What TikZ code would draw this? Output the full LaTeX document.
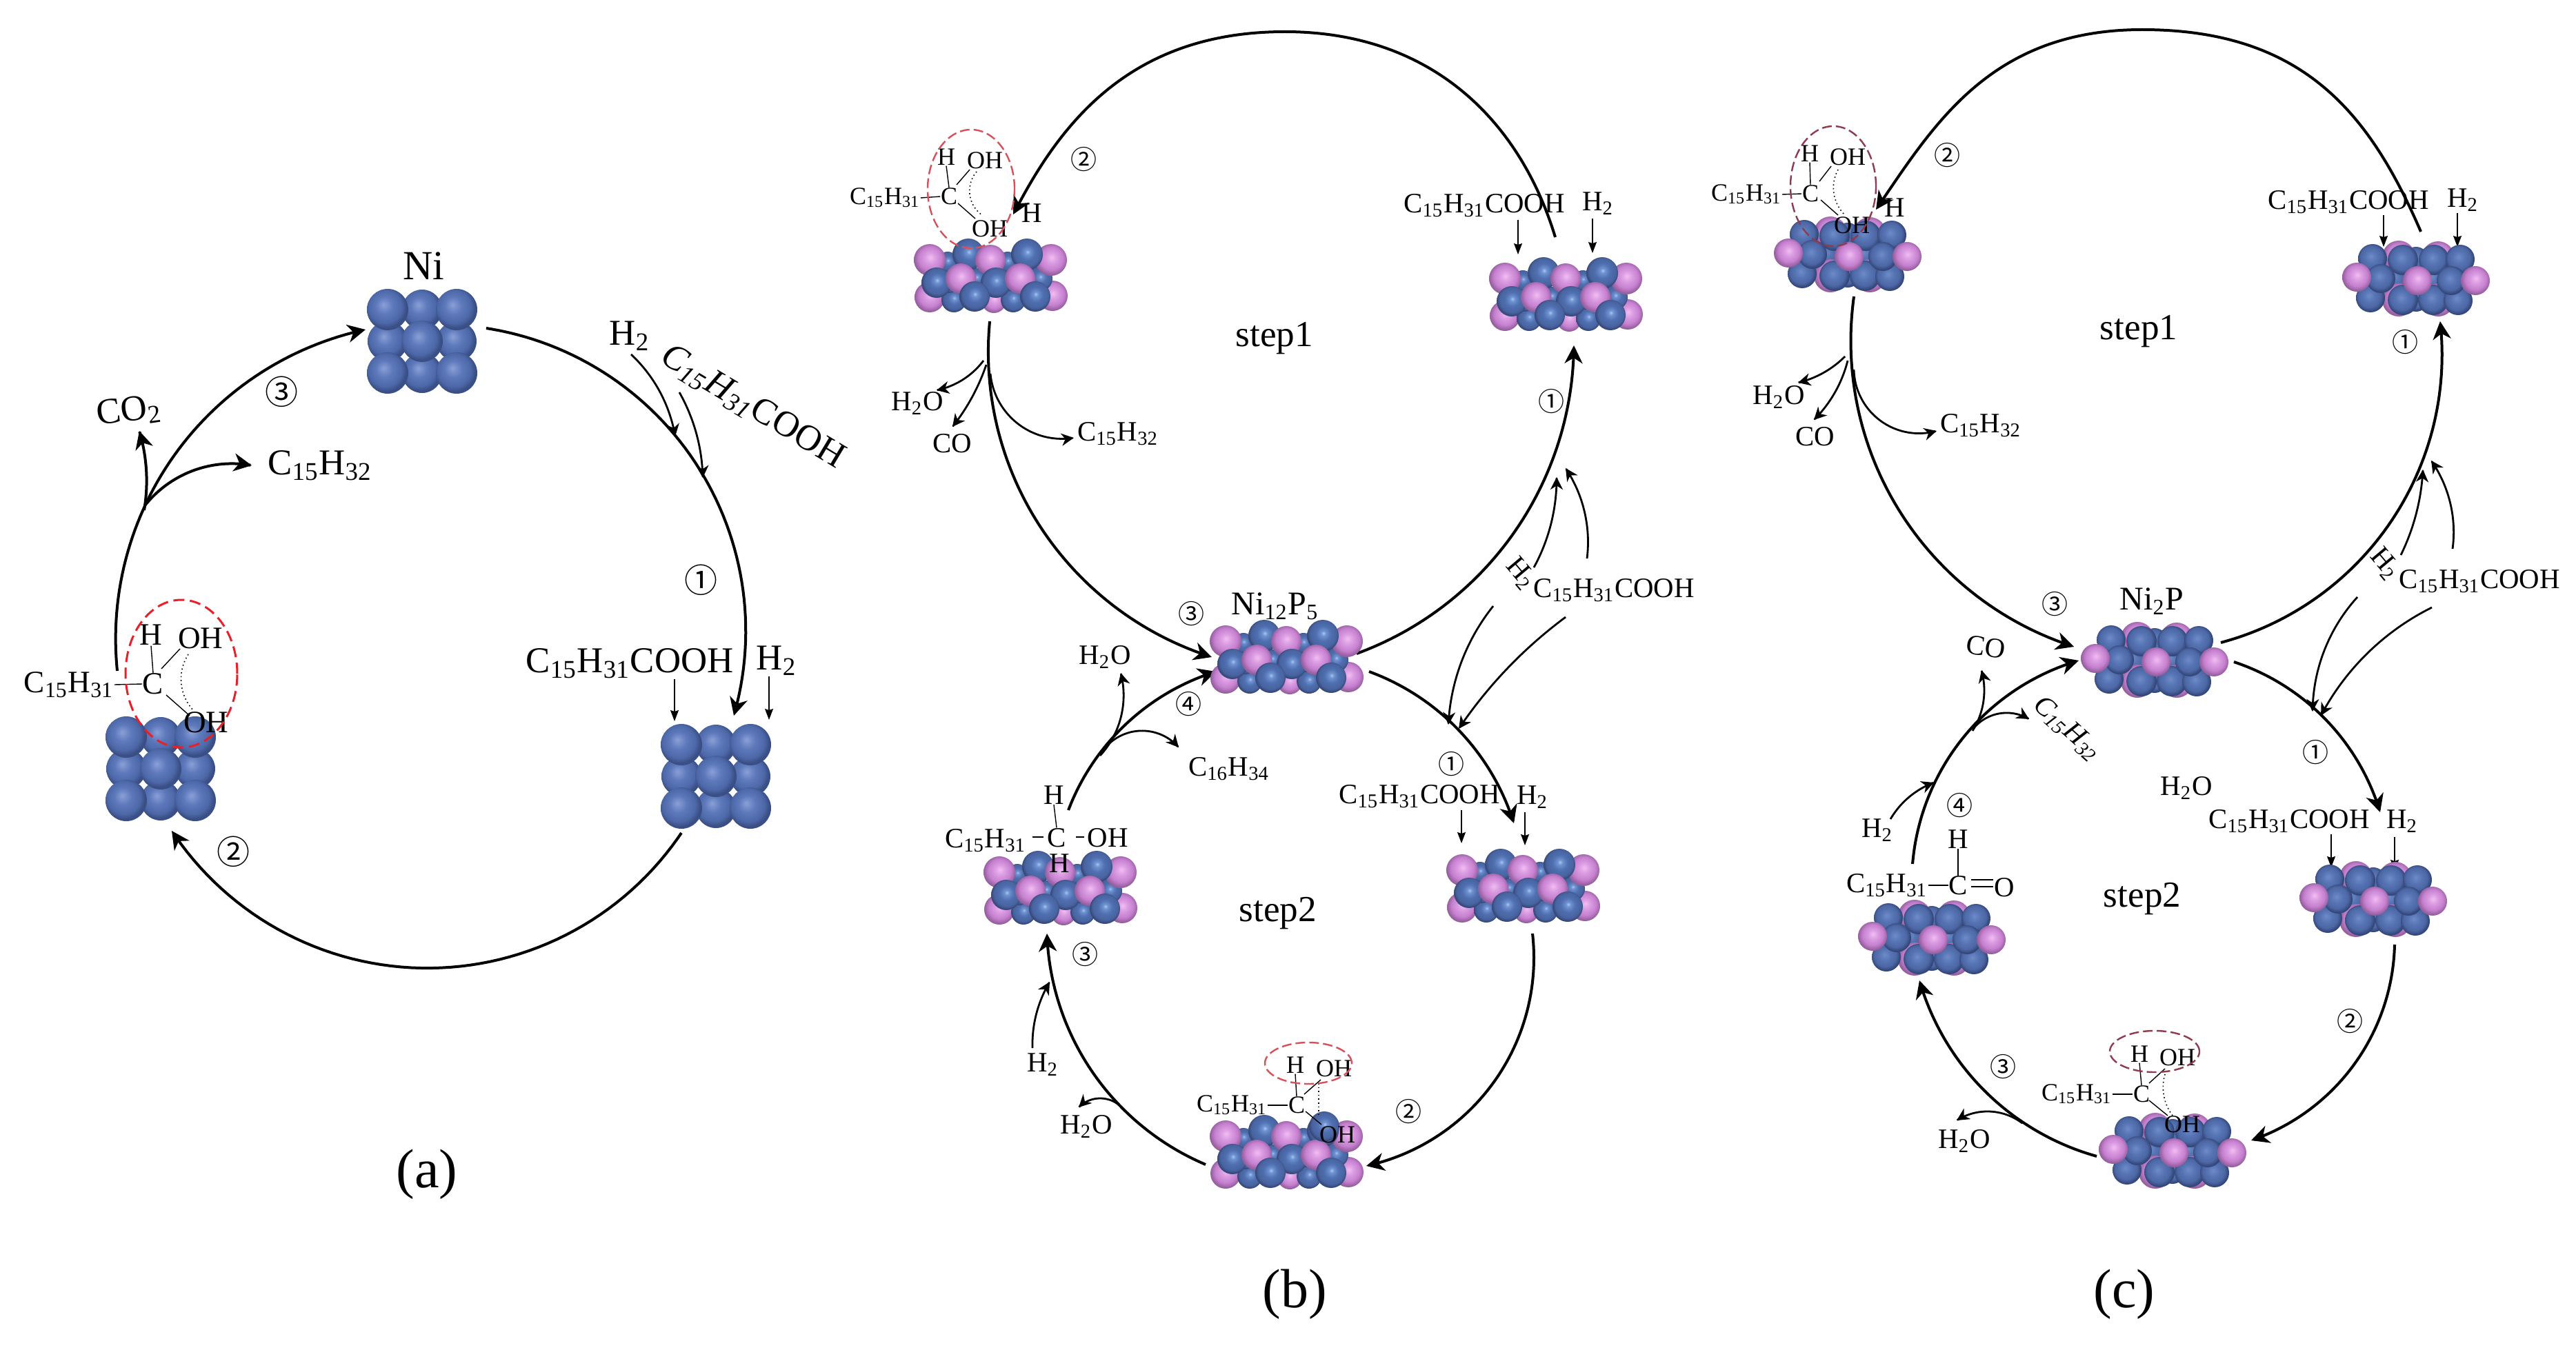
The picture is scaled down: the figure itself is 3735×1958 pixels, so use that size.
\documentclass[tikz,border=0pt]{standalone}
\usepackage{tikz}
\usepackage{fontspec}
\setmainfont{Liberation Serif}
\newfontfamily\cnum{Noto Sans CJK SC}
\usetikzlibrary{arrows.meta}
\definecolor{aA}{HTML}{8AA0D6}\definecolor{aB}{HTML}{5F7ABC}\definecolor{aC}{HTML}{4D68A8}\definecolor{aD}{HTML}{3A4F85}
\definecolor{bA}{HTML}{A6C6F2}\definecolor{bB}{HTML}{6F92D0}\definecolor{bC}{HTML}{4F6FB0}\definecolor{bD}{HTML}{48639F}\definecolor{bE}{HTML}{374A7C}
\definecolor{cA}{HTML}{6F8CC8}\definecolor{cB}{HTML}{5774B4}\definecolor{cC}{HTML}{4C67A4}\definecolor{cD}{HTML}{33477A}
\definecolor{pA}{HTML}{F2BEF2}\definecolor{pB}{HTML}{DB9DE2}\definecolor{pC}{HTML}{C680CF}\definecolor{pD}{HTML}{96609F}
\definecolor{redA}{HTML}{E8202A}\definecolor{redB}{HTML}{D9505A}\definecolor{redC}{HTML}{8F3A4F}
\pgfdeclareradialshading{ballA}{\pgfpoint{-5bp}{6bp}}{color(0bp)=(aA); color(10bp)=(aB); color(20bp)=(aC); color(25bp)=(aD); color(50bp)=(aD)}
\pgfdeclareradialshading{ballB}{\pgfpoint{1bp}{4bp}}{color(0bp)=(bA); color(4bp)=(bB); color(12bp)=(bC); color(21bp)=(bD); color(25bp)=(bE); color(50bp)=(bE)}
\pgfdeclareradialshading{ballC}{\pgfpoint{-3bp}{4bp}}{color(0bp)=(cA); color(10bp)=(cB); color(19bp)=(cC); color(25bp)=(cD); color(50bp)=(cD)}
\pgfdeclareradialshading{ballP}{\pgfpoint{1bp}{4bp}}{color(0bp)=(pA); color(8bp)=(pB); color(18bp)=(pC); color(25bp)=(pD); color(50bp)=(pD)}
\newcommand\sph[4]{\shade[shading=#1] (#2,#3) circle[radius=#4*0.25pt];}
\newcommand\NiCube[2]{\begin{scope}[shift={(#1,#2)}]
 \sph{ballA}{0}{-46}{29}\sph{ballA}{-50}{0}{29}\sph{ballA}{50}{0}{29}\sph{ballA}{0}{46}{29}
 \sph{ballA}{-50}{-46}{30}\sph{ballA}{50}{-46}{30}\sph{ballA}{-50}{46}{30}\sph{ballA}{50}{46}{30}\sph{ballA}{0}{0}{30}
\end{scope}}
\newcommand\SlabB[2]{\begin{scope}[shift={(#1,#2)}]
 \sph{ballP}{-88}{29}{22}\sph{ballP}{5}{34}{18}\sph{ballP}{90}{27}{22}
 \sph{ballB}{-62}{-22}{15}\sph{ballB}{25}{-22}{15}\sph{ballB}{-20}{2}{15}\sph{ballB}{72}{2}{18}
 \sph{ballB}{-53}{33}{18}\sph{ballB}{33}{33}{18}\sph{ballB}{-60}{8}{15}\sph{ballB}{30}{5}{15}
 \sph{ballP}{88}{-25}{23}\sph{ballB}{53}{-33}{23}\sph{ballB}{-32}{-33}{23}\sph{ballP}{0}{-25}{22}\sph{ballP}{-88}{-25}{23}
 \sph{ballB}{-78}{8}{22}\sph{ballB}{8}{8}{22}\sph{ballP}{-43}{2}{22}\sph{ballP}{43}{2}{22}
 \sph{ballB}{-23}{28}{22}\sph{ballB}{65}{28}{22}
\end{scope}}
\newcommand\SlabC[2]{\begin{scope}[shift={(#1,#2)}]
 \sph{ballC}{0}{-28}{18}\sph{ballC}{0}{30}{18}\sph{ballC}{-30}{0}{18}\sph{ballC}{25}{0}{18}
 \sph{ballP}{-25}{-31}{24}\sph{ballP}{32}{-30}{24}\sph{ballP}{-25}{31}{24}\sph{ballP}{32}{31}{24}
 \sph{ballC}{-63}{-29}{21}\sph{ballC}{-19}{-27}{22}\sph{ballC}{26}{-27}{22}\sph{ballC}{64}{-28}{21}
 \sph{ballC}{-66}{28}{21}\sph{ballC}{-19}{31}{22}\sph{ballC}{25}{31}{22}\sph{ballC}{61}{32}{21}
 \sph{ballC}{-51}{0}{21}\sph{ballC}{51}{3}{21}
 \sph{ballP}{-86}{-2}{21}\sph{ballP}{2}{3}{21}\sph{ballP}{86}{3}{21}
\end{scope}}
\newcounter{cn}
% circular arc connector through three points: style, start, point on the arc, end
\newcommand\arcc[7]{\stepcounter{cn}\coordinate (c\thecn s) at (#2,#3);\coordinate (c\thecn e) at (#6,#7);%
 \pgfmathsetmacro\qbx{(#4-#2)/100}\pgfmathsetmacro\qby{(#5-#3)/100}%
 \pgfmathsetmacro\qcx{(#6-#2)/100}\pgfmathsetmacro\qcy{(#7-#3)/100}%
 \pgfmathsetmacro\qD{2*(\qbx*\qcy-\qby*\qcx)}%
 \pgfmathsetmacro\qbb{\qbx*\qbx+\qby*\qby}\pgfmathsetmacro\qcc{\qcx*\qcx+\qcy*\qcy}%
 \pgfmathsetmacro\qux{(\qcy*\qbb-\qby*\qcc)/\qD}\pgfmathsetmacro\quy{(\qbx*\qcc-\qcx*\qbb)/\qD}%
 \pgfmathsetmacro\qR{sqrt(\qux*\qux+\quy*\quy)}%
 \pgfmathsetmacro\qaS{atan2(-\quy,-\qux)}\pgfmathsetmacro\qaE{atan2(\qcy-\quy,\qcx-\qux)}%
 \pgfmathsetmacro\qdA{\qaE-\qaS}%
 \pgfmathsetmacro\qdA{ifthenelse(\qD>0,ifthenelse(\qdA<0,\qdA+360,\qdA),ifthenelse(\qdA>0,\qdA-360,\qdA))}%
 \draw[#1] (c\thecn s) -- plot[domain=0.01:0.99,samples=60] ({#2+100*(\qux+\qR*cos(\qaS+\x*\qdA))},{#3+100*(\quy+\qR*sin(\qaS+\x*\qdA))}) -- (c\thecn e);}
\newcommand\sconn[3]{\stepcounter{cn}\coordinate (c\thecn s) at #2;\coordinate (c\thecn e) at #3;%
 \draw[#1] (c\thecn s) -- (c\thecn e);}
\newcommand\ssb[1]{\textsubscript{#1}}
\newcommand\Chain{C\ssb{15}H\ssb{31}}
\newcommand\Acid{\Chain COOH}
\tikzset{
 lb/.style={inner sep=0pt,font=\fontsize{#1}{#1}\selectfont},
 la/.style={lb=13.2},
 lm/.style={lb=11.3},
 lc/.style={lb=10.2},
 ls/.style={lb=9},
 stp/.style={lb=13.3},
 capt/.style={lb=20},
 numa/.style={inner sep=0pt,font=\cnum\fontsize{12}{12}\selectfont},
 numb/.style={inner sep=0pt,font=\cnum\fontsize{9.5}{9.5}\selectfont},
 big/.style={line width=1pt,-{Stealth[length=6.5pt,width=6.5pt,inset=2pt]}},
 midarr/.style={line width=.7pt,-{Stealth[length=4.5pt,width=4.5pt,inset=1.4pt]}},
 dn/.style={line width=.3pt,-{Stealth[length=4pt,width=3pt,inset=.5pt]}},
 bnd/.style={line width=.35pt},
 dotl/.style={line width=.4pt,densely dotted},
 ringA/.style={draw=redA,line width=.75pt,dash pattern=on 4pt off 2pt},
 ringB/.style={draw=redB,line width=.6pt,dash pattern=on 3.5pt off 1.5pt},
 ringC/.style={draw=redC,line width=.6pt,dash pattern=on 3.5pt off 1.5pt},
}
\begin{document}
\begin{tikzpicture}[x=0.25pt,y=-0.25pt]
\useasboundingbox (0,0) rectangle (3735,1958);
\fill[white] (0,0) rectangle (3735,1958);
%% ---------- panel (a)
\arcc{big}{705}{476}{1020}{690}{1064}{1038}
\arcc{big}{988}{1208}{630}{1404}{249}{1205}
\arcc{big}{170}{973}{209}{736}{530}{478}
\arcc{big}{209}{740}{212}{680}{202}{625}
\arcc{big}{211}{732}{263}{690}{365}{675}
\arcc{midarr}{915}{514}{955}{565}{979}{633}
\arcc{midarr}{985}{569}{1010}{630}{1019}{693}
\sconn{dn}{(978,985)}{(978,1046)}
\sconn{dn}{(1115,981)}{(1115,1044)}
\NiCube{612}{495}
\NiCube{1038}{1126}
\NiCube{233}{1115}
\node[lb=15] (niA) at (614,386) {Ni};
\node[la,rotate=8] (co2A) at (187,597) {CO\ssb{2}};
\node[la] (alkA) at (464,675) {C\ssb{15}H\ssb{32}};
\node[numa] (n3A) at (408,568) {③};
\node[numa] (n1A) at (1016,841) {①};
\node[numa] (n2A) at (338,1235) {②};
\node[la] (acidA) at (913,962) {\Acid};
\node[la] (h2A) at (1126,958) {H\ssb{2}};
\node[la] (h2At) at (913,487) {H\ssb{2}};
\node[la,rotate=-31] (acidAt) at (1091,591) {\textit{C\ssb{15}H\ssb{31}}COOH};
\node[lm] (chA) at (100,993) {\Chain};
\node[lm] (cA) at (222,992) {C};
\node[lm] (hA) at (219,921) {H};
\node[lm] (oh1A) at (291,926) {OH};
\node[lm] (oh2A) at (299,1048) {OH};
\draw[bnd] (chA.east) -- (cA.west);
\draw[bnd] (hA.south) -- (cA.north);
\sconn{bnd}{(234,970)}{(261,941)}
\sconn{bnd}{(241,1008)}{(275,1038)}
\arcc{dotl}{273}{949}{263}{993}{281}{1031}
\draw[ringA] (263,977) ellipse [x radius=81*0.25pt,y radius=107*0.25pt];
\node[capt] (capA) at (619,1703) {(a)};
%% ---------- panel (b)
\coordinate (bTs) at (2255,344);\coordinate (bTm) at (1863,46);\coordinate (bTe) at (1469,311);
\draw[big] (bTs) .. controls (2205,179) and (2079,46) .. (bTm) .. controls (1646,46) and (1544,170) .. (bTe);
\arcc{big}{1967}{948}{2245}{682}{2282}{501}
\arcc{big}{1435}{466}{1532}{797}{1757}{953}
\arcc{big}{1985}{974}{2104}{1048}{2195}{1194}
\arcc{big}{2222}{1354}{2111}{1628}{1981}{1691}
\arcc{big}{1748}{1689}{1629}{1609}{1518}{1354}
\arcc{big}{1549}{1175}{1595}{1092}{1763}{974}
\arcc{midarr}{1426}{523}{1400}{548}{1358}{566}
\arcc{midarr}{1430}{529}{1410}{575}{1381}{619}
\arcc{midarr}{1436}{542}{1482}{619}{1557}{635}
\arcc{midarr}{2224}{823}{2249}{759}{2257}{692}
\arcc{midarr}{2301}{810}{2295}{733}{2270}{679}
\arcc{midarr}{2165}{879}{2115}{971}{2100}{1051}
\arcc{midarr}{2270}{895}{2172}{984}{2115}{1057}
\arcc{midarr}{1497}{1520}{1505}{1462}{1522}{1424}
\arcc{midarr}{1629}{1609}{1595}{1593}{1564}{1606}
\arcc{midarr}{1595}{1096}{1625}{1041}{1625}{976}
\arcc{midarr}{1602}{1085}{1660}{1060}{1709}{1084}
\sconn{dn}{(2201,319)}{(2201,369)}
\sconn{dn}{(2309,317)}{(2309,367)}
\sconn{dn}{(2119,1175)}{(2119,1223)}
\sconn{dn}{(2211,1178)}{(2211,1226)}
\SlabB{1436}{402}
\SlabB{2270}{429}
\SlabB{1865}{955}
\SlabB{2208}{1287}
\SlabB{1537}{1290}
\SlabB{1865}{1673}
\sph{ballB}{1920}{1634}{22}
\node[ls] (ch1) at (1283,287) {\Chain};
\node[ls] (c1) at (1376,285) {C};
\node[ls] (h1) at (1372,228) {H};
\node[ls] (oh1) at (1428,233) {OH};
\node[ls] (oh2) at (1435,332) {OH};
\node[lc] (h3) at (1496,309) {H};
\draw[bnd] (ch1.east) -- (c1.west);
\draw[bnd] (h1.south) -- (c1.north);
\sconn{bnd}{(1387,268)}{(1406,246)}
\sconn{bnd}{(1389,295)}{(1414,317)}
\arcc{dotl}{1416}{249}{1407}{287}{1424}{312}
\draw[ringB] (1408,274) ellipse [x radius=63*0.25pt,y radius=86*0.25pt];
\node[lc] (acidB1) at (2152,298) {\Acid};
\node[lc] (h2B1) at (2317,295) {H\ssb{2}};
\node[stp] (stepB1) at (1848,491) {step1};
\node[numb] (nb1) at (2249,582) {①};
\node[numb] (nb2) at (1571,231) {②};
\node[lc] (h2oB) at (1330,585) {H\ssb{2}O};
\node[lc] (coB) at (1381,643) {CO};
\node[lc] (alkB) at (1621,629) {C\ssb{15}H\ssb{32}};
\node[lb=12] (nip) at (1849,879) {Ni\ssb{12}P\ssb{5}};
\node[numb] (nb3) at (1727,890) {③};
\node[lc,rotate=-50] (h2B2) at (2205,832) {H\ssb{2}};
\node[lc] (acidB2) at (2340,856) {\Acid};
\node[numb] (nb1l) at (2104,1108) {①};
\node[lc] (acidB3) at (2058,1155) {\Acid};
\node[lc] (h2B3) at (2222,1156) {H\ssb{2}};
\node[stp] (stepB2) at (1853,1325) {step2};
\node[numb] (nb2l) at (2042,1612) {②};
\node[numb] (nb3l) at (1573,1384) {③};
\node[numb] (nb4) at (1723,1021) {④};
\node[lc] (h2B4) at (1512,1544) {H\ssb{2}};
\node[lc] (h2oB2) at (1575,1634) {H\ssb{2}O};
\node[lc] (h2oB3) at (1602,953) {H\ssb{2}O};
\node[lc] (c16) at (1782,1115) {C\ssb{16}H\ssb{34}};
\node[lc] (hl1) at (1528,1153) {H};
\node[lc] (chl) at (1429,1219) {\Chain};
\node[lc] (cl) at (1532,1215) {C};
\node[lc] (ohl) at (1606,1215) {OH};
\node[lc] (hl2) at (1536,1252) {H};
\draw[bnd] (cl.north) -- (hl1.south);
\sconn{bnd}{(1497,1214)}{(1513,1214)}
\sconn{bnd}{(1560,1214)}{(1572,1214)}
\node[ls] (hb) at (1878,1545) {H};
\node[ls] (ohb) at (1934,1550) {OH};
\node[ls] (chb) at (1786,1603) {\Chain};
\node[ls] (cb) at (1880,1603) {C};
\node[ls] (ohb2) at (1939,1646) {OH};
\draw[bnd] (chb.east) -- (cb.west);
\draw[bnd] (hb.south) -- (cb.north);
\sconn{bnd}{(1891,1587)}{(1915,1566)}
\sconn{bnd}{(1893,1612)}{(1916,1631)}
\sconn{dotl}{(1912,1571)}{(1912,1618)}
\draw[ringB] (1897,1542) ellipse [x radius=63*0.25pt,y radius=30*0.25pt];
\node[capt] (capB) at (1877,1877) {(b)};
%% ---------- panel (c)
\coordinate (cTs) at (3510,336);\coordinate (cTm) at (3106,43);\coordinate (cTe) at (2720,304);
\draw[big] (cTs) .. controls (3436,165) and (3340,43) .. (cTm) .. controls (2894,43) and (2810,171) .. (cTe);
\arcc{big}{3220}{932}{3507}{682}{3538}{466}
\arcc{big}{2688}{430}{2770}{765}{3007}{938}
\arcc{big}{3239}{960}{3357}{1029}{3451}{1178}
\arcc{big}{3472}{1370}{3372}{1590}{3264}{1654}
\arcc{big}{3040}{1677}{2929}{1625}{2783}{1422}
\arcc{big}{2773}{1253}{2860}{1054}{3014}{958}
\arcc{midarr}{2675}{517}{2645}{540}{2607}{555}
\arcc{midarr}{2679}{523}{2660}{570}{2630}{609}
\arcc{midarr}{2688}{536}{2729}{612}{2808}{625}
\arcc{midarr}{3481}{805}{3503}{746}{3513}{681}
\arcc{midarr}{3556}{796}{3552}{727}{3525}{668}
\arcc{midarr}{3418}{866}{3369}{946}{3353}{1032}
\arcc{midarr}{3526}{881}{3434}{946}{3365}{1038}
\arcc{midarr}{2932}{1629}{2883}{1612}{2837}{1625}
\arcc{midarr}{2741}{1188}{2768}{1156}{2804}{1135}
\arcc{midarr}{2860}{1060}{2875}{1022}{2873}{972}
\arcc{midarr}{2861}{1057}{2898}{1035}{2942}{1043}
\sconn{dn}{(3456,312)}{(3456,358)}
\sconn{dn}{(3563,309)}{(3563,358)}
\sconn{dn}{(3380,1210)}{(3380,1258)}
\sconn{dn}{(3472,1214)}{(3472,1263)}
\SlabC{2679}{369}
\SlabC{3503}{404}
\SlabC{3124}{957}
\SlabC{3441}{1304}
\SlabC{2801}{1360}
\SlabC{3150}{1669}
\node[ls] (ch2) at (2532,282) {\Chain};
\node[ls] (c2) at (2625,281) {C};
\node[ls] (h5) at (2624,223) {H};
\node[ls] (oh5) at (2679,228) {OH};
\node[ls] (oh6) at (2685,327) {OH};
\node[lc] (h6) at (2747,301) {H};
\draw[bnd] (ch2.east) -- (c2.west);
\draw[bnd] (h5.south) -- (c2.north);
\sconn{bnd}{(2638,263)}{(2655,241)}
\sconn{bnd}{(2640,290)}{(2665,312)}
\arcc{dotl}{2665}{246}{2659}{281}{2675}{312}
\draw[ringC] (2658,270) ellipse [x radius=62*0.25pt,y radius=87*0.25pt];
\node[lc] (acidC1) at (3405,293) {\Acid};
\node[lc] (h2C1) at (3571,290) {H\ssb{2}};
\node[stp] (stepC1) at (3101,481) {step1};
\node[numb] (nc1) at (3487,496) {①};
\node[numb] (nc2) at (2823,225) {②};
\node[lc] (h2oC) at (2579,576) {H\ssb{2}O};
\node[lc] (coC) at (2632,633) {CO};
\node[lc] (alkC) at (2872,617) {C\ssb{15}H\ssb{32}};
\node[lb=12] (nipC) at (3120,872) {Ni\ssb{2}P};
\node[numb] (nc3) at (2979,876) {③};
\node[lc,rotate=-50] (h2C2) at (3458,818) {H\ssb{2}};
\node[lc] (acidC2) at (3595,843) {\Acid};
\node[numb] (nc1l) at (3357,1091) {①};
\node[lc] (h2oC2) at (3170,1143) {H\ssb{2}O};
\node[lc] (acidC3) at (3319,1191) {\Acid};
\node[lc] (h2C3) at (3483,1191) {H\ssb{2}};
\node[stp] (stepC2) at (3106,1304) {step2};
\node[numb] (nc2l) at (3407,1481) {②};
\node[numb] (nc3l) at (2904,1547) {③};
\node[numb] (nc4) at (2841,1168) {④};
\node[lc] (h2oC3) at (2848,1655) {H\ssb{2}O};
\node[lc] (h2C4) at (2722,1204) {H\ssb{2}};
\node[lc,rotate=-8] (coC2) at (2879,938) {CO};
\node[lc,rotate=-42] (alkC2) at (2997,1057) {\textit{C\ssb{15}H\ssb{32}}};
\node[lc] (hl3) at (2839,1217) {H};
\node[lc] (chl2) at (2736,1284) {\Chain};
\node[lc] (cl2) at (2839,1284) {C};
\node[lc] (ol2) at (2906,1287) {O};
\draw[bnd] (hl3.south) -- (cl2.north);
\draw[bnd] (chl2.east) -- (cl2.west);
\sconn{bnd}{(2858,1276)}{(2890,1276)}
\sconn{bnd}{(2858,1286)}{(2890,1286)}
\node[ls] (hc) at (3102,1529) {H};
\node[ls] (ohc) at (3157,1534) {OH};
\node[ls] (chc) at (3011,1587) {\Chain};
\node[ls] (cc) at (3105,1587) {C};
\node[ls] (ohc2) at (3164,1631) {OH};
\draw[bnd] (chc.east) -- (cc.west);
\draw[bnd] (hc.south) -- (cc.north);
\sconn{bnd}{(3116,1571)}{(3139,1550)}
\sconn{bnd}{(3116,1596)}{(3143,1618)}
\arcc{dotl}{3139}{1558}{3139}{1596}{3150}{1618}
\draw[ringC] (3124,1525) ellipse [x radius=65*0.25pt,y radius=30*0.25pt];
\node[capt] (capC) at (3080,1877) {(c)};
\end{tikzpicture}
\end{document}
